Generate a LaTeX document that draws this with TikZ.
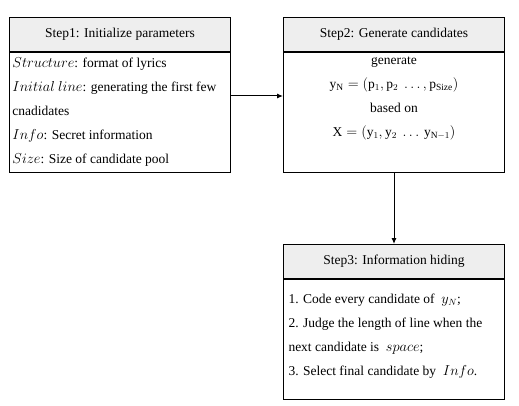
\documentclass[tikz,border=0pt]{standalone}
\usepackage{fontspec}
\setmainfont{Liberation Serif}
\usetikzlibrary{arrows.meta,positioning}
\definecolor{headgray}{RGB}{238,238,238}

\begin{document}
\begin{tikzpicture}[x=1pt, y=1pt, >={Latex[length=6pt,width=5pt]}, line width=1pt,
  font=\fontsize{13.5}{24}\selectfont]
  \tikzset{
    head/.style={draw, fill=headgray, minimum width=221pt, minimum height=34pt, inner sep=0pt},
    body/.style={draw, minimum width=221pt, minimum height=120pt, inner sep=0pt},
    lines/.style={inner sep=0pt},
  }
  \useasboundingbox (0,0) rectangle (519,-406);
  % step boxes
  \node[head, anchor=north west] (h1) at (9,-17) {Step1: Initialize parameters};
  \node[body, below=0pt of h1] (b1) {};
  \node[head, right=52pt of h1] (h2) {Step2: Generate candidates};
  \node[body, below=0pt of h2] (b2) {};
  \node[head, below=71pt of b2] (h3) {Step3: Information hiding};
  \node[body, below=0pt of h3] (b3) {};
  % box contents
  \node[lines, align=left, anchor=north west] (t1) at ([xshift=3pt,yshift=-5pt]b1.north west)
    {$Structure$: format of lyrics\\
     $Initial\ line$: generating the first few\\
     cnadidates\\
     $Info$: Secret information\\
     $Size$: Size of candidate pool};
  \node[lines, align=center, anchor=north] (t2) at ([yshift=-4pt]b2.north)
    {generate\\
     $\mathrm{y}_\mathrm{N} = (\mathrm{p}_1, \mathrm{p}_2\ \ldots, \mathrm{p}_{\mathrm{Size}})$\\
     based on\\
     $\mathrm{X} = (\mathrm{y}_1, \mathrm{y}_2\ \ldots\, \mathrm{y}_{\mathrm{N}-1})$};
  \node[lines, align=left, anchor=north west] (t3) at ([xshift=5pt,yshift=-14pt]b3.north west)
    {1. Code every candidate of \ $y_N$;\\
     2. Judge the length of line when the\\
     next candidate is \ $space$;\\
     3. Select final candidate by \ $Info$.};
  % connectors
  \draw[->] ([yshift=-44pt]b1.north east) -- ([yshift=-44pt]b2.north west);
  \draw[->] (b2.south) -- (h3.north);
\end{tikzpicture}
\end{document}
